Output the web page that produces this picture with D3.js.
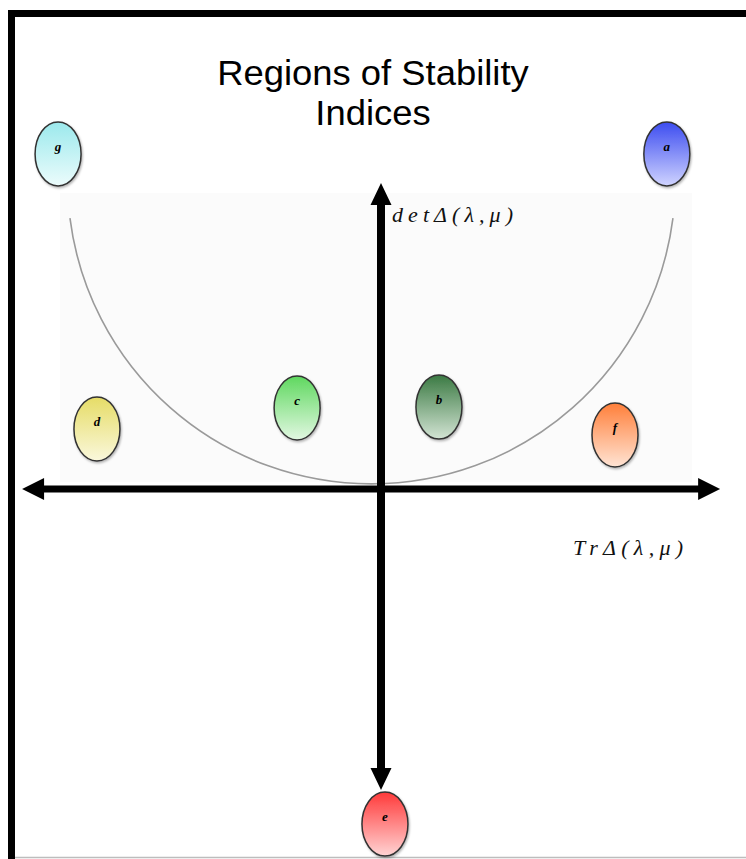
<!DOCTYPE html>
<html>
<head>
<meta charset="utf-8">
<script src="https://cdn.jsdelivr.net/npm/d3@7"></script>
<style>
body { margin: 0; background: #fff; }
svg { display: block; }
</style>
</head>
<body>
<div id="chart"></div>
<script>
// region markers, position in (Tr, det) units
var regionLabels = ["g", "a", "d", "c", "b", "f", "e"];
var regionTr  = [-8.97, 7.94, -7.89, -2.33, 1.61, 6.5, 0.11];
var regionDet = [11.17, 11.17, 2.0, 2.7, 2.73, 1.8, -11.17];

// axis arrow extents
var trExtent  = [-9.97, 9.42];
var detExtent = [-10.03, 10.2];

// boundary curve: left end, lowest point, right end
var curveTr  = [-8.64, -0.25, 8.11];
var curveDet = [9.03, 0.17, 9.03];

// shaded backdrop behind upper half
var panelTr  = [-8.92, 8.64];
var panelDet = [0.23, 9.87];

var titleLines = ["Regions of Stability", "Indices"];
var xLabel = "TrΔ(λ,μ)";
var yLabel = "detΔ(λ,μ)";

// top / bottom gradient colour for each marker
var regionColors = {
    g: ["#9be9ec", "#ecfcfc"],
    a: ["#3c4cf0", "#d0d4ff"],
    d: ["#e6dc66", "#faf8dc"],
    c: ["#5fd85f", "#e2f8e2"],
    b: ["#3b7a43", "#d3e4d4"],
    f: ["#ff7f3a", "#ffe4d4"],
    e: ["#ff3a3a", "#ffd4d4"]
};

var width = 746, height = 859;

var svg = d3.select("#chart").append("svg")
    .attr("width", width)
    .attr("height", height);

// one unit = 36px across, 30px up
var x = d3.scaleLinear().domain([-10, 10]).range([21, 741]);
var y = d3.scaleLinear().domain([-10, 10]).range([789, 189]);

var defs = svg.append("defs");

regionLabels.forEach(function(k) {
    var g = defs.append("linearGradient")
        .attr("id", "grad-" + k)
        .attr("x1", 0).attr("y1", 0)
        .attr("x2", 0).attr("y2", 1);
    g.append("stop").attr("offset", "0%").attr("stop-color", regionColors[k][0]);
    g.append("stop").attr("offset", "100%").attr("stop-color", regionColors[k][1]);
});

defs.append("filter")
    .attr("id", "shadow")
    .attr("x", "-30%").attr("y", "-30%")
    .attr("width", "160%").attr("height", "160%")
  .append("feDropShadow")
    .attr("dx", 1).attr("dy", 1.5)
    .attr("stdDeviation", 1.2)
    .attr("flood-color", "#000")
    .attr("flood-opacity", 0.3);

// frame
svg.append("rect")
    .attr("x", 0).attr("y", 0)
    .attr("width", width).attr("height", height)
    .attr("fill", "#fff");
svg.append("rect")
    .attr("x", 8).attr("y", 10)
    .attr("width", width - 8).attr("height", 7)
    .attr("fill", "#000");
svg.append("rect")
    .attr("x", 8).attr("y", 10)
    .attr("width", 7).attr("height", height - 10)
    .attr("fill", "#000");
svg.append("line")
    .attr("x1", 15).attr("x2", width)
    .attr("y1", 857.5).attr("y2", 857.5)
    .attr("stroke", "#bdbdbd")
    .attr("stroke-width", 1.5);

// backdrop
svg.append("rect")
    .attr("x", x(panelTr[0]))
    .attr("y", y(panelDet[1]))
    .attr("width", x(panelTr[1]) - x(panelTr[0]))
    .attr("height", y(panelDet[0]) - y(panelDet[1]))
    .attr("fill", "#fbfbfb");

// title, two lines
svg.selectAll(".title")
    .data(titleLines)
    .enter().append("text")
    .attr("class", "title")
    .attr("text-anchor", "middle")
    .attr("transform", function(d, i) { return "translate(373," + (85 + i * 40) + ") scale(1.04,1)"; })
    .style("font-family", "'Liberation Sans', Arial, sans-serif")
    .style("font-size", "35px")
    .attr("fill", "#000")
    .text(function(d) { return d; });

// boundary curve: circle through the three points
var pts = curveTr.map(function(d, i) { return [x(d), y(curveDet[i])]; });
function circleThrough(p1, p2, p3) {
    var ax = p1[0], ay = p1[1], bx = p2[0], by = p2[1], cx = p3[0], cy = p3[1];
    var dd = 2 * (ax * (by - cy) + bx * (cy - ay) + cx * (ay - by));
    var ux = ((ax*ax + ay*ay) * (by - cy) + (bx*bx + by*by) * (cy - ay) + (cx*cx + cy*cy) * (ay - by)) / dd;
    var uy = ((ax*ax + ay*ay) * (cx - bx) + (bx*bx + by*by) * (ax - cx) + (cx*cx + cy*cy) * (bx - ax)) / dd;
    return {x: ux, y: uy, r: Math.hypot(ax - ux, ay - uy)};
}
var circ = circleThrough(pts[0], pts[1], pts[2]);
svg.append("path")
    .attr("d", "M" + pts[0][0] + "," + pts[0][1] +
        " A" + circ.r + "," + circ.r + " 0 0 0 " + pts[2][0] + "," + pts[2][1])
    .attr("fill", "none")
    .attr("stroke", "#9a9a9a")
    .attr("stroke-width", 1.6);

// axes as double-headed arrows
function hArrow(x0, x1, yy, w, hl, hw) {
    return "M" + x0 + "," + yy +
        "L" + (x0 + hl) + "," + (yy - hw) +
        "L" + (x0 + hl) + "," + (yy - w / 2) +
        "L" + (x1 - hl) + "," + (yy - w / 2) +
        "L" + (x1 - hl) + "," + (yy - hw) +
        "L" + x1 + "," + yy +
        "L" + (x1 - hl) + "," + (yy + hw) +
        "L" + (x1 - hl) + "," + (yy + w / 2) +
        "L" + (x0 + hl) + "," + (yy + w / 2) +
        "L" + (x0 + hl) + "," + (yy + hw) + "Z";
}
function vArrow(y0, y1, xx, w, hl, hw) {
    return "M" + xx + "," + y0 +
        "L" + (xx + hw) + "," + (y0 + hl) +
        "L" + (xx + w / 2) + "," + (y0 + hl) +
        "L" + (xx + w / 2) + "," + (y1 - hl) +
        "L" + (xx + hw) + "," + (y1 - hl) +
        "L" + xx + "," + y1 +
        "L" + (xx - hw) + "," + (y1 - hl) +
        "L" + (xx - w / 2) + "," + (y1 - hl) +
        "L" + (xx - w / 2) + "," + (y0 + hl) +
        "L" + (xx - hw) + "," + (y0 + hl) + "Z";
}
svg.append("path")
    .attr("d", hArrow(x(trExtent[0]), x(trExtent[1]), y(0), 7, 22, 11))
    .attr("fill", "#000");
svg.append("path")
    .attr("d", vArrow(y(detExtent[1]), y(detExtent[0]), x(0), 8, 22, 10.5))
    .attr("fill", "#000");

// axis labels
svg.append("text")
    .attr("x", 392).attr("y", 222)
    .attr("textLength", 121)
    .attr("lengthAdjust", "spacing")
    .style("font-family", "'Liberation Serif', 'Times New Roman', serif")
    .style("font-style", "italic")
    .style("font-size", "22px")
    .attr("fill", "#111")
    .text(yLabel);
svg.append("text")
    .attr("x", 573).attr("y", 555)
    .attr("textLength", 110)
    .attr("lengthAdjust", "spacing")
    .style("font-family", "'Liberation Serif', 'Times New Roman', serif")
    .style("font-style", "italic")
    .style("font-size", "22px")
    .attr("fill", "#111")
    .text(xLabel);

// region markers
var regions = regionLabels.map(function(d, i) {
    return {label: d, tr: regionTr[i], det: regionDet[i]};
});

var mk = svg.selectAll(".region")
    .data(regions)
    .enter().append("g")
    .attr("class", "region")
    .attr("transform", function(d) { return "translate(" + x(d.tr) + "," + y(d.det) + ")"; });

mk.append("ellipse")
    .attr("rx", 23)
    .attr("ry", 32)
    .attr("fill", function(d) { return "url(#grad-" + d.label + ")"; })
    .attr("stroke", "#333")
    .attr("stroke-width", 1.5)
    .attr("filter", "url(#shadow)");

mk.append("text")
    .attr("y", -3)
    .attr("text-anchor", "middle")
    .style("font-family", "'Liberation Serif', 'Times New Roman', serif")
    .style("font-style", "italic")
    .style("font-weight", "bold")
    .style("font-size", "13px")
    .text(function(d) { return d.label; });
</script>
</body>
</html>
